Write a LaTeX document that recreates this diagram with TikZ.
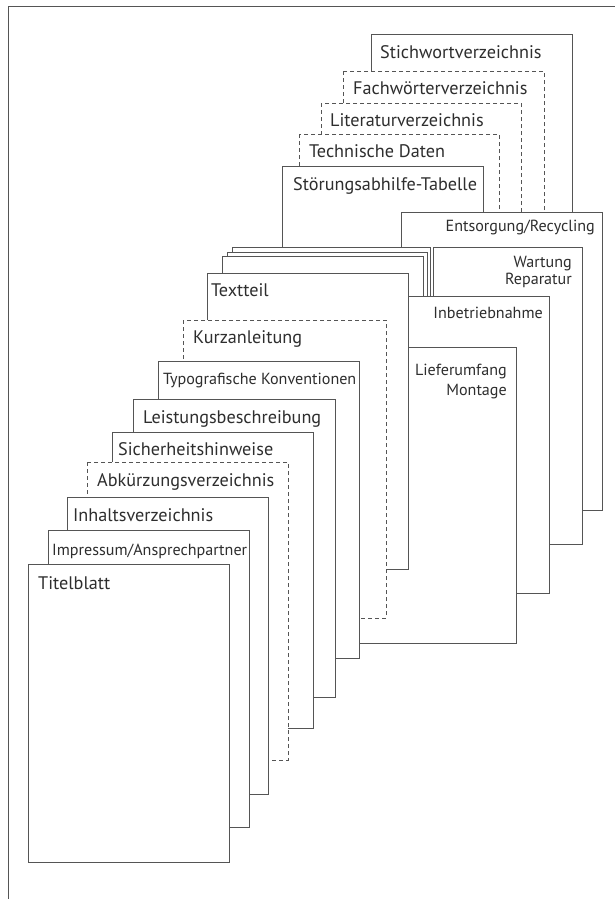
\documentclass[tikz,border=0pt]{standalone}
\usepackage{fontspec}
\setmainfont{PT Sans}
\definecolor{linegray}{HTML}{555555}
\definecolor{inkgray}{HTML}{2E2E2E}

\begin{document}
\begin{tikzpicture}[
  x=1pt, y=-1pt,
  page/.style={draw=linegray, fill=white, line width=0.9pt},
  dpage/.style={page, dash pattern=on 4pt off 3pt},
  pagetitle/.style={anchor=base west, inner sep=0pt, text=inkgray,
    font=\fontsize{18.2}{21}\selectfont},
  rtitle/.style={pagetitle, anchor=base east},
  narrowtitle/.style={font=\fontsize{16.1}{19}\selectfont}
]
\useasboundingbox (0,0) rectangle (615,899);
% frame of the scan
\draw[linegray, line width=0.9pt] (8,899) -- (8,6) -- (615,6);

% back stack
\draw[page] (371,34) rectangle (572,460);
\node[pagetitle] (stichwort) at (380,59) {Stichwortverzeichnis};
\draw[dpage] (343,71) rectangle (544,460);
\node[pagetitle] (fachwoerter) at (353,94) {Fachwörterverzeichnis};
\draw[dpage] (321,103) rectangle (521,460);
\node[pagetitle] (literatur) at (330,126) {Literaturverzeichnis};
\draw[dpage] (299,134) rectangle (499,460);
\node[pagetitle] (technik) at (309,157) {Technische Daten};
\draw[page] (282,166) rectangle (483,460);
\node[pagetitle] (stoerung) at (293,190) {Störungsabhilfe-Tabelle};

% text part
\draw[page] (401,212) rectangle (602,510);
\node[rtitle, narrowtitle] (entsorgung) at (595,231) {Entsorgung/Recycling};
\draw[page] (433,247) rectangle (582,544);
\node[rtitle, narrowtitle] (wartung) at (572,267) {Wartung};
\node[rtitle, narrowtitle] (reparatur) at (572,284) {Reparatur};
\draw[page] (232,247) rectangle (430,540);
\draw[page] (227,252) rectangle (427,540);
\draw[page] (222,256) rectangle (423,540);
\draw[page] (300,296) rectangle (549,593);
\node[rtitle, narrowtitle] (inbetrieb) at (543,318) {Inbetriebnahme};
\draw[page] (300,347) rectangle (516,643);
\node[rtitle, narrowtitle] (liefer) at (507,375) {Lieferumfang};
\node[rtitle, narrowtitle] (montage) at (507,395) {Montage};
\draw[page] (207,273) rectangle (408,569);
\node[pagetitle] (textteil) at (211,296) {Textteil};

% front stack
\draw[dpage] (183,320) rectangle (386,618);
\node[pagetitle] (kurz) at (193,343) {Kurzanleitung};
\draw[page] (158,361) rectangle (359,658);
\node[pagetitle, narrowtitle] (typo) at (163,384) {Typografische Konventionen};
\draw[page] (133,399) rectangle (335,697);
\node[pagetitle] (leistung) at (143,423) {Leistungsbeschreibung};
\draw[page] (112,432) rectangle (313,728);
\node[pagetitle] (sicherheit) at (118,455) {Sicherheitshinweise};
\draw[dpage] (87,462) rectangle (288,760);
\node[pagetitle] (abkuerzung) at (97,486) {Abkürzungsverzeichnis};
\draw[page] (67,497) rectangle (268,794);
\node[pagetitle] (inhalt) at (73,521) {Inhaltsverzeichnis};
\draw[page] (48,530) rectangle (249,827);
\node[pagetitle, narrowtitle] (impressum) at (52,555) {Impressum/Ansprechpartner};
\draw[page] (28,564) rectangle (229,862);
\node[pagetitle] (titel) at (38,589) {Titelblatt};
\end{tikzpicture}
\end{document}
